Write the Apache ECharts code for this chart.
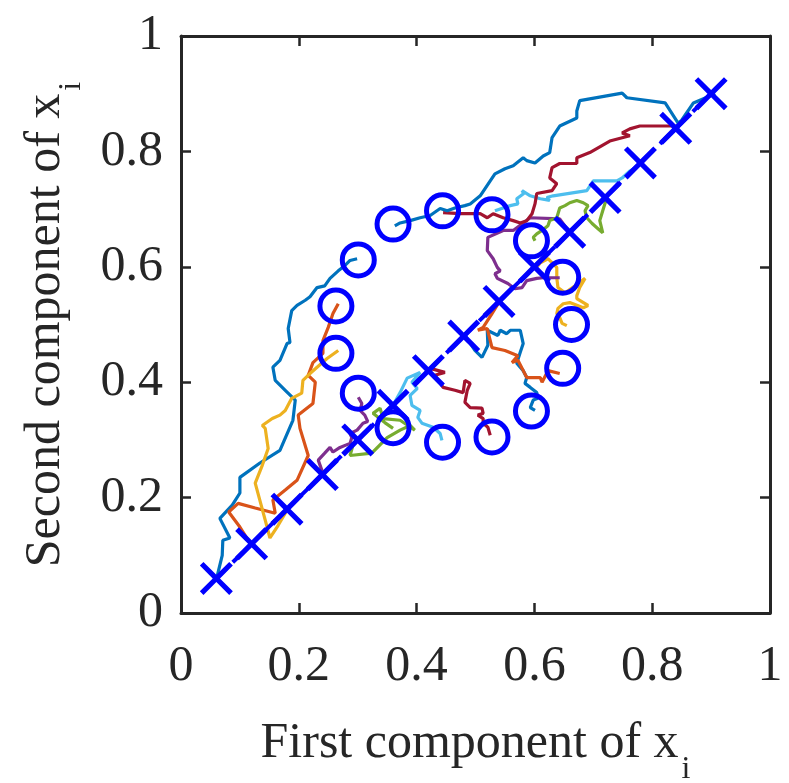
<!DOCTYPE html>
<html>
<head>
<meta charset="utf-8">
<script src="https://cdn.jsdelivr.net/npm/echarts@6/dist/echarts.min.js"></script>
<style>
html, body { margin: 0; padding: 0; background: #fff; }
#chart { width: 789px; height: 783px; }
</style>
</head>
<body>
<div id="chart"></div>
<script>
// targets along the diagonal (x markers)
var crossX = [0.06, 0.12, 0.18, 0.24, 0.30, 0.36, 0.42, 0.48, 0.54, 0.60, 0.66, 0.72, 0.78, 0.84, 0.90];
var crossY = [0.06, 0.12, 0.18, 0.24, 0.30, 0.36, 0.42, 0.48, 0.54, 0.60, 0.66, 0.72, 0.78, 0.84, 0.90];

// ring of end points (o markers)
var ringX = [0.360, 0.444, 0.528, 0.595, 0.648, 0.663, 0.648, 0.595, 0.528, 0.444, 0.360, 0.301, 0.263, 0.263, 0.301];
var ringY = [0.674, 0.697, 0.690, 0.645, 0.582, 0.500, 0.424, 0.350, 0.305, 0.296, 0.321, 0.381, 0.450, 0.532, 0.612];

// trajectories, one per agent
var traj01 = [[0.058,0.055],[0.061,0.062],[0.070,0.100],[0.071,0.126],[0.083,0.130],[0.066,0.164],[0.087,0.187],[0.100,0.208],[0.100,0.235],[0.134,0.260],[0.168,0.282],[0.190,0.334],[0.194,0.369],[0.177,0.386],[0.160,0.403],[0.156,0.426],[0.168,0.438],[0.180,0.467],[0.185,0.469],[0.182,0.493],[0.188,0.524],[0.197,0.533],[0.211,0.542],[0.219,0.548],[0.231,0.564],[0.244,0.567],[0.253,0.580],[0.267,0.593],[0.278,0.602],[0.287,0.611],[0.299,0.614]];
var traj02 = [[0.119,0.118],[0.100,0.149],[0.081,0.175],[0.097,0.190],[0.126,0.182],[0.160,0.173],[0.156,0.196],[0.177,0.213],[0.197,0.230],[0.216,0.273],[0.202,0.320],[0.199,0.343],[0.224,0.363],[0.228,0.400],[0.216,0.412],[0.224,0.434],[0.241,0.450],[0.241,0.472],[0.250,0.495],[0.258,0.519],[0.267,0.536]];
var traj03 = [[0.180,0.178],[0.165,0.152],[0.151,0.130],[0.143,0.161],[0.126,0.225],[0.138,0.256],[0.148,0.285],[0.143,0.320],[0.138,0.325],[0.155,0.337],[0.168,0.343],[0.177,0.351],[0.188,0.372],[0.205,0.381],[0.207,0.403],[0.219,0.415],[0.231,0.426],[0.248,0.441],[0.267,0.455]];
var traj04 = [[0.241,0.242],[0.233,0.265],[0.244,0.277],[0.253,0.287],[0.258,0.279],[0.270,0.287],[0.287,0.294],[0.290,0.304],[0.287,0.311],[0.299,0.317],[0.309,0.329],[0.317,0.332],[0.312,0.343],[0.304,0.351],[0.307,0.363],[0.301,0.374]];
var traj05 = [[0.301,0.304],[0.292,0.291],[0.287,0.273],[0.324,0.277],[0.350,0.304],[0.372,0.317],[0.389,0.325],[0.397,0.317],[0.372,0.334],[0.343,0.337],[0.338,0.355],[0.326,0.346],[0.346,0.330],[0.360,0.320]];
var traj06 = [[0.360,0.360],[0.372,0.382],[0.384,0.407],[0.406,0.417],[0.392,0.400],[0.401,0.389],[0.389,0.377],[0.392,0.360],[0.406,0.351],[0.402,0.339],[0.409,0.329],[0.428,0.322],[0.440,0.311],[0.443,0.299]];
var traj07 = [[0.423,0.424],[0.448,0.417],[0.431,0.412],[0.445,0.391],[0.465,0.386],[0.479,0.382],[0.482,0.403],[0.491,0.398],[0.486,0.386],[0.482,0.365],[0.491,0.356],[0.511,0.355],[0.513,0.346],[0.504,0.343],[0.513,0.337],[0.513,0.329],[0.521,0.322],[0.525,0.308]];
var traj08 = [[0.482,0.481],[0.499,0.455],[0.511,0.443],[0.521,0.464],[0.520,0.490],[0.538,0.481],[0.542,0.490],[0.553,0.484],[0.559,0.490],[0.576,0.490],[0.581,0.467],[0.576,0.452],[0.570,0.433],[0.581,0.420],[0.587,0.408],[0.584,0.398],[0.593,0.391],[0.604,0.382],[0.606,0.372],[0.598,0.369],[0.593,0.356],[0.601,0.351]];
var traj09 = [[0.542,0.542],[0.528,0.519],[0.513,0.495],[0.504,0.490],[0.520,0.493],[0.528,0.460],[0.550,0.455],[0.572,0.446],[0.562,0.434],[0.572,0.438],[0.587,0.408],[0.610,0.408],[0.613,0.400],[0.623,0.420],[0.643,0.415]];
var traj10 = [[0.604,0.599],[0.610,0.607],[0.623,0.614],[0.638,0.599],[0.638,0.581],[0.640,0.564],[0.652,0.555],[0.669,0.567],[0.686,0.580],[0.677,0.564],[0.672,0.550],[0.672,0.545],[0.691,0.533],[0.683,0.529],[0.660,0.538],[0.649,0.536],[0.640,0.528],[0.638,0.519],[0.643,0.512],[0.647,0.502],[0.655,0.498]];
var traj11 = [[0.664,0.654],[0.643,0.683],[0.593,0.685],[0.564,0.663],[0.547,0.663],[0.521,0.651],[0.520,0.628],[0.530,0.614],[0.537,0.599],[0.542,0.593],[0.533,0.588],[0.537,0.580],[0.555,0.571],[0.567,0.562],[0.579,0.564],[0.587,0.576],[0.604,0.580],[0.615,0.581],[0.643,0.581]];
var traj12 = [[0.723,0.720],[0.716,0.697],[0.711,0.680],[0.716,0.659],[0.708,0.666],[0.698,0.675],[0.689,0.685],[0.686,0.697],[0.691,0.706],[0.683,0.711],[0.672,0.715],[0.660,0.711],[0.652,0.706],[0.643,0.702],[0.638,0.685],[0.626,0.680],[0.623,0.671],[0.613,0.663],[0.604,0.657],[0.598,0.651],[0.601,0.645]];
var traj13 = [[0.784,0.780],[0.762,0.766],[0.749,0.754],[0.740,0.749],[0.700,0.749],[0.689,0.732],[0.632,0.723],[0.621,0.720],[0.626,0.715],[0.610,0.718],[0.593,0.723],[0.579,0.732],[0.576,0.735],[0.582,0.727],[0.570,0.718],[0.572,0.709],[0.559,0.706],[0.547,0.702],[0.533,0.697]];
var traj14 = [[0.844,0.844],[0.779,0.844],[0.762,0.839],[0.749,0.832],[0.762,0.827],[0.728,0.818],[0.694,0.798],[0.672,0.789],[0.672,0.779],[0.643,0.779],[0.630,0.772],[0.626,0.754],[0.638,0.744],[0.630,0.732],[0.604,0.727],[0.601,0.709],[0.596,0.692],[0.587,0.680],[0.576,0.676],[0.564,0.680],[0.547,0.685],[0.530,0.692],[0.520,0.685],[0.508,0.692],[0.496,0.692],[0.474,0.692],[0.445,0.694]];
var traj15 = [[0.907,0.900],[0.870,0.884],[0.850,0.854],[0.844,0.849],[0.822,0.884],[0.757,0.893],[0.749,0.901],[0.677,0.888],[0.672,0.870],[0.672,0.858],[0.643,0.844],[0.630,0.824],[0.626,0.798],[0.615,0.792],[0.601,0.780],[0.587,0.784],[0.581,0.789],[0.564,0.775],[0.550,0.770],[0.533,0.761],[0.525,0.749],[0.508,0.723],[0.491,0.709],[0.482,0.706],[0.465,0.702],[0.452,0.697],[0.440,0.701],[0.423,0.689],[0.406,0.685],[0.389,0.680],[0.372,0.676],[0.363,0.671]];

var trajList = [traj01, traj02, traj03, traj04, traj05, traj06, traj07, traj08, traj09, traj10, traj11, traj12, traj13, traj14, traj15];
var palette = ['#0072BD', '#D95319', '#EDB120', '#7E2F8E', '#77AC30', '#4DBEEE', '#A2142F'];

var axisColor = '#262626';
var serif = '"Liberation Serif", "Times New Roman", serif';
// solid X outline, arms about 5px wide at 32px
var crossPath = 'path://M11,0L50,39L89,0L100,11L61,50L100,89L89,100L50,61L11,100L0,89L39,50L0,11Z';

var series = [];
trajList.forEach(function (t, i) {
    series.push({
        type: 'line',
        data: t,
        showSymbol: false,
        silent: true,
        z: 2,
        lineStyle: { color: palette[i % 7], width: 3.2 }
    });
});

var crossData = crossX.map(function (x, i) { return [x, crossY[i]]; });
series.push({
    type: 'line',
    data: crossData,
    z: 3,
    symbol: crossPath,
    symbolSize: 33,
    showAllSymbol: true,
    itemStyle: { color: '#0000ff', borderWidth: 0 },
    lineStyle: { color: '#0000ff', width: 4, type: [14, 9] }
});

var ringData = ringX.map(function (x, i) { return [x, ringY[i]]; });
series.push({
    type: 'scatter',
    data: ringData,
    z: 4,
    symbol: 'circle',
    symbolSize: 32,
    itemStyle: { color: 'rgba(0,0,0,0)', borderColor: '#0000ff', borderWidth: 5, opacity: 1 }
});

// x with a lowered subscript i
var nameRich = {
    a: { fontFamily: serif, fontSize: 50, color: axisColor },
    s: { fontFamily: serif, fontSize: 32, color: axisColor, padding: [52, 0, 0, 3] }
};

function mkX(pos, labels) {
    return {
        type: 'value', position: pos, min: 0, max: 1, interval: 0.2,
        axisLine: { show: true, onZero: false, lineStyle: { color: axisColor, width: 3 } },
        axisTick: { show: true, inside: true, length: 10, lineStyle: { color: axisColor, width: 2.5 } },
        splitLine: { show: false },
        axisLabel: { show: labels, margin: 29, fontFamily: serif, fontSize: 50, color: axisColor },
        name: labels ? '{a|First component of x}{s|i}' : '',
        nameLocation: 'middle', nameGap: 89,
        nameTextStyle: { rich: nameRich }
    };
}
function mkY(pos, labels) {
    return {
        type: 'value', position: pos, min: 0, max: 1, interval: 0.2,
        axisLine: { show: true, onZero: false, lineStyle: { color: axisColor, width: 3 } },
        axisTick: { show: true, inside: true, length: 10, lineStyle: { color: axisColor, width: 2.5 } },
        splitLine: { show: false },
        axisLabel: { show: labels, margin: 18, fontFamily: serif, fontSize: 50, color: axisColor },
        name: labels ? '{a|Second component of x}{s|i}' : '',
        nameLocation: 'middle', nameGap: 93, nameRotate: 90,
        nameTextStyle: { rich: nameRich }
    };
}

var option = {
    animation: false,
    backgroundColor: '#fff',
    grid: { left: 181, right: 19, top: 36, bottom: 170, outerBoundsMode: 'none', containLabel: false },
    xAxis: [mkX('bottom', true), mkX('top', false)],
    yAxis: [mkY('left', true), mkY('right', false)],
    series: series
};

var chart = echarts.init(document.getElementById('chart'));
chart.setOption(option);
</script>
</body>
</html>
